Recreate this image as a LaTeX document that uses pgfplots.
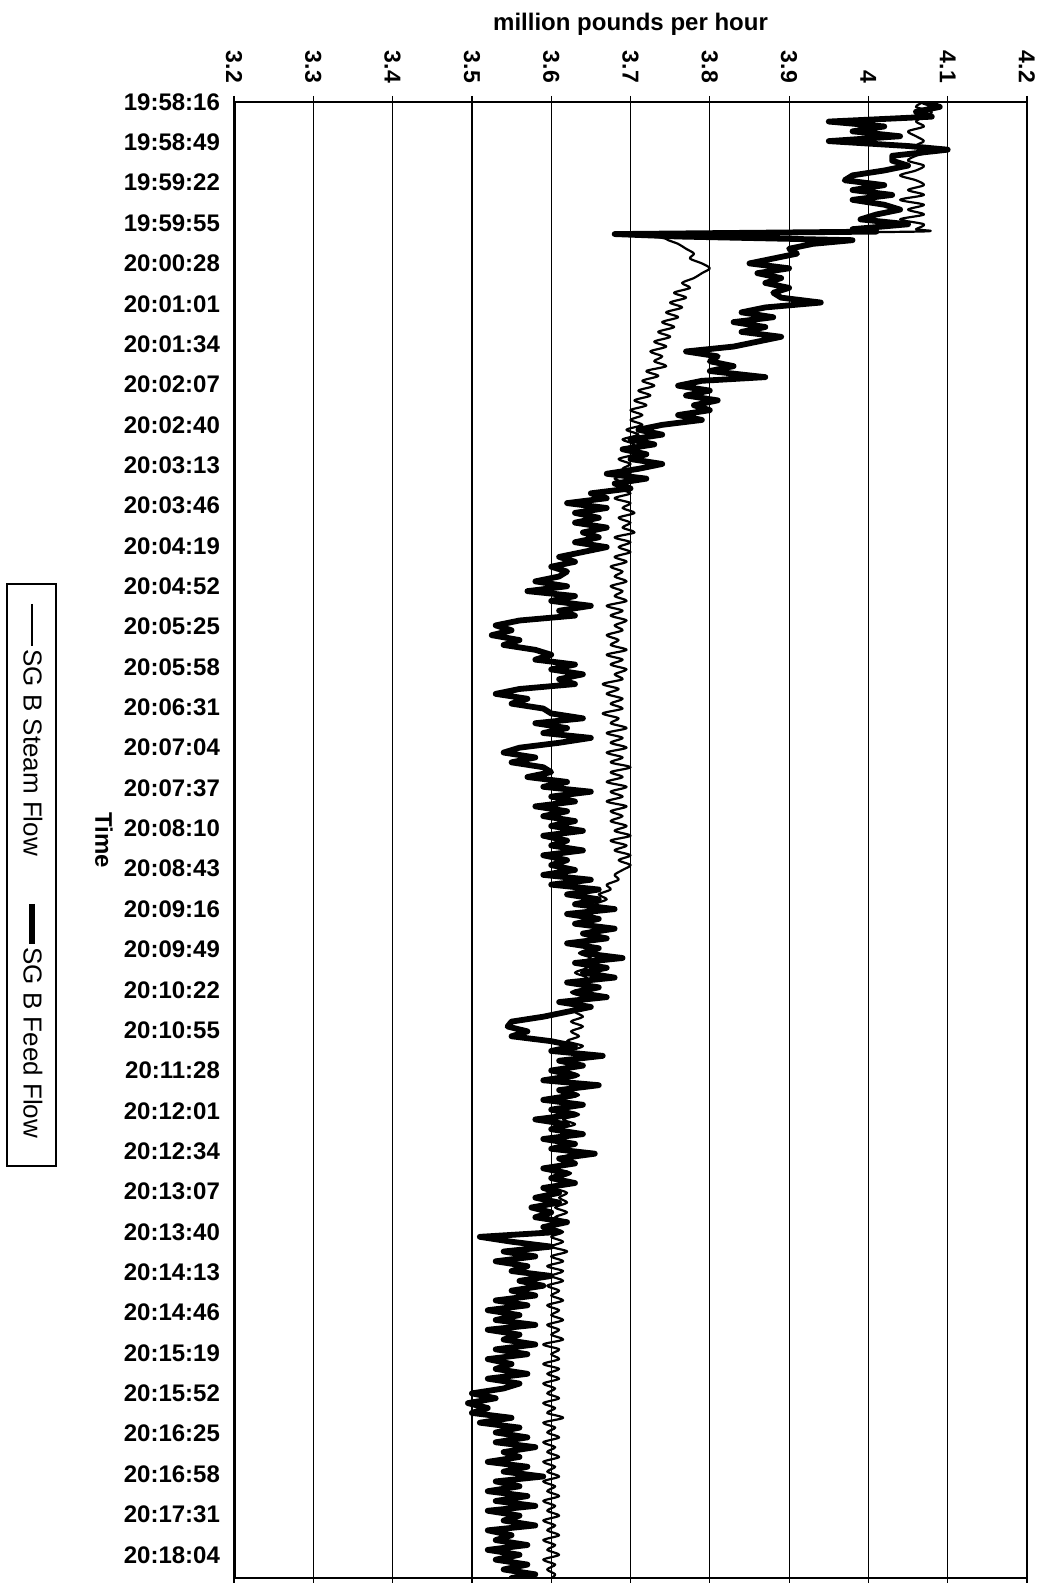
\documentclass[border=0pt]{standalone}
\usepackage{fontspec}
\setmainfont{Liberation Sans}
\usepackage{pgfplots}
\usepackage{pgfplotstable}
\pgfplotsset{compat=1.18}

\pgfplotstableread{
t v
0 4.07
4 4.09
8 4.06
12 4.08
16 3.95
20 4.02
24 3.98
28 4.04
32 3.95
36 4.05
39 4.10
44 4.03
48 4.03
52 4.05
56 4.02
60 3.98
64 3.97
68 4.02
72 3.98
76 4.03
80 3.98
84 4.02
88 4.04
92 4.01
96 3.99
100 4.05
104 3.98
106 4.01
108 3.68
110 3.76
113 3.98
116 3.93
120 3.90
124 3.91
128 3.88
132 3.85
136 3.90
140 3.86
144 3.89
148 3.87
152 3.90
156 3.88
160 3.89
164 3.94
168 3.87
172 3.84
176 3.88
180 3.83
184 3.87
188 3.84
192 3.89
196 3.86
200 3.83
204 3.77
208 3.81
212 3.80
216 3.83
220 3.80
225 3.87
228 3.79
232 3.76
236 3.80
240 3.77
244 3.81
248 3.78
252 3.80
256 3.76
260 3.79
264 3.74
268 3.71
272 3.74
276 3.70
280 3.73
284 3.69
288 3.72
292 3.70
296 3.74
300 3.71
304 3.67
308 3.72
312 3.68
316 3.70
320 3.65
324 3.67
328 3.62
332 3.67
336 3.63
340 3.66
344 3.63
348 3.67
352 3.64
356 3.66
360 3.63
364 3.67
368 3.64
372 3.61
376 3.63
380 3.60
384 3.62
388 3.61
392 3.58
396 3.62
400 3.57
404 3.63
408 3.60
412 3.65
416 3.61
420 3.63
424 3.56
428 3.53
432 3.55
436 3.525
440 3.56
444 3.54
448 3.58
452 3.60
456 3.58
460 3.63
464 3.60
468 3.64
472 3.61
476 3.63
480 3.56
484 3.53
488 3.57
492 3.55
496 3.59
500 3.60
504 3.64
508 3.58
512 3.62
516 3.59
520 3.65
524 3.61
528 3.56
532 3.54
536 3.58
540 3.55
544 3.59
548 3.60
552 3.57
556 3.62
560 3.59
564 3.65
568 3.60
572 3.63
576 3.58
580 3.62
584 3.59
588 3.63
592 3.60
596 3.64
600 3.59
604 3.62
608 3.60
612 3.64
616 3.59
620 3.62
624 3.60
628 3.63
632 3.59
636 3.65
640 3.60
644 3.66
648 3.62
652 3.66
656 3.63
660 3.68
664 3.62
668 3.66
672 3.63
676 3.68
680 3.64
684 3.67
688 3.62
692 3.66
696 3.64
700 3.69
704 3.63
708 3.67
712 3.64
716 3.68
720 3.62
724 3.66
728 3.63
732 3.67
736 3.61
740 3.65
744 3.62
748 3.59
752 3.55
756 3.545
760 3.57
764 3.55
768 3.60
772 3.63
776 3.60
780 3.665
784 3.61
788 3.64
792 3.60
796 3.63
800 3.59
804 3.66
808 3.61
812 3.63
816 3.59
820 3.64
824 3.60
828 3.63
832 3.58
836 3.62
840 3.60
844 3.64
848 3.59
852 3.63
856 3.60
860 3.655
864 3.61
868 3.63
872 3.59
876 3.62
880 3.60
884 3.63
888 3.59
892 3.61
896 3.58
900 3.61
904 3.575
908 3.60
912 3.58
916 3.62
920 3.59
924 3.61
928 3.51
932 3.55
936 3.60
940 3.54
944 3.58
948 3.53
952 3.57
956 3.55
960 3.60
964 3.56
968 3.59
972 3.55
976 3.58
980 3.53
984 3.57
988 3.52
992 3.56
996 3.53
1000 3.58
1004 3.52
1008 3.56
1012 3.54
1016 3.58
1020 3.53
1024 3.57
1028 3.52
1032 3.55
1036 3.53
1040 3.57
1044 3.52
1048 3.56
1052 3.54
1056 3.50
1060 3.53
1064 3.495
1068 3.52
1072 3.50
1076 3.55
1080 3.51
1084 3.56
1088 3.53
1092 3.57
1096 3.53
1100 3.58
1104 3.54
1108 3.56
1112 3.52
1116 3.57
1120 3.54
1124 3.59
1128 3.53
1132 3.56
1136 3.52
1140 3.57
1144 3.53
1148 3.58
1152 3.52
1156 3.56
1160 3.54
1164 3.58
1168 3.52
1172 3.55
1176 3.53
1180 3.57
1184 3.52
1188 3.56
1192 3.53
1196 3.57
1200 3.54
1204 3.58
1207 3.55
}\feed

\pgfplotstableread{
t v
0 4.07
4 4.06
8 4.08
12 4.07
16 4.06
20 4.07
24 4.05
28 4.06
32 4.07
36 4.06
40 4.08
44 4.06
48 4.05
52 4.07
56 4.06
60 4.04
64 4.06
68 4.07
72 4.05
76 4.07
80 4.04
84 4.07
88 4.05
92 4.07
96 4.04
100 4.07
104 4.06
106 4.06
108 3.75
112 3.745
116 3.76
120 3.77
124 3.78
128 3.775
132 3.79
136 3.80
140 3.79
144 3.78
148 3.765
152 3.775
156 3.755
160 3.77
164 3.75
168 3.765
172 3.745
176 3.76
180 3.74
184 3.755
188 3.735
192 3.75
196 3.73
200 3.745
204 3.725
208 3.74
212 3.73
216 3.745
220 3.72
224 3.735
228 3.715
232 3.73
236 3.71
240 3.725
244 3.705
248 3.72
252 3.70
256 3.715
260 3.70
264 3.715
268 3.695
272 3.71
276 3.69
280 3.705
284 3.69
288 3.705
292 3.685
296 3.70
300 3.69
304 3.70
308 3.68
312 3.695
316 3.685
320 3.70
324 3.68
328 3.70
332 3.69
336 3.705
340 3.685
344 3.70
348 3.69
352 3.705
356 3.68
360 3.70
364 3.685
368 3.70
372 3.68
376 3.695
380 3.675
384 3.69
388 3.68
392 3.695
396 3.675
400 3.69
404 3.68
408 3.695
412 3.67
416 3.69
420 3.675
424 3.695
428 3.68
432 3.69
436 3.67
440 3.685
444 3.675
448 3.695
452 3.67
456 3.69
460 3.675
464 3.695
468 3.68
472 3.69
476 3.665
480 3.685
484 3.67
488 3.69
492 3.675
496 3.69
500 3.665
504 3.685
508 3.675
512 3.695
516 3.67
520 3.69
524 3.675
528 3.695
532 3.67
536 3.69
540 3.675
544 3.70
548 3.675
552 3.69
556 3.67
560 3.695
564 3.675
568 3.69
572 3.67
576 3.695
580 3.675
584 3.69
588 3.675
592 3.695
596 3.68
600 3.70
604 3.675
608 3.695
612 3.68
616 3.70
620 3.685
624 3.70
628 3.69
632 3.68
636 3.685
640 3.67
644 3.675
648 3.66
652 3.67
656 3.655
660 3.665
664 3.65
668 3.66
672 3.645
676 3.655
680 3.64
684 3.655
688 3.64
692 3.65
696 3.635
700 3.65
704 3.635
708 3.645
712 3.63
716 3.645
720 3.63
724 3.645
728 3.625
732 3.64
736 3.625
740 3.64
744 3.63
748 3.64
752 3.625
756 3.64
760 3.625
764 3.635
768 3.62
772 3.64
776 3.625
780 3.64
784 3.62
788 3.635
792 3.62
796 3.635
800 3.615
804 3.635
808 3.62
812 3.635
816 3.615
820 3.63
824 3.615
828 3.635
832 3.615
836 3.63
840 3.61
844 3.63
848 3.615
852 3.63
856 3.61
860 3.625
864 3.61
868 3.625
872 3.605
876 3.625
880 3.61
884 3.625
888 3.605
892 3.62
896 3.61
900 3.62
904 3.605
908 3.62
912 3.605
916 3.62
920 3.60
924 3.615
928 3.60
932 3.615
936 3.60
940 3.62
944 3.60
948 3.615
952 3.595
956 3.615
960 3.60
964 3.615
968 3.595
972 3.61
976 3.60
980 3.615
984 3.595
988 3.61
992 3.60
996 3.615
1000 3.595
1004 3.61
1008 3.60
1012 3.615
1016 3.59
1020 3.61
1024 3.60
1028 3.61
1032 3.59
1036 3.61
1040 3.595
1044 3.61
1048 3.59
1052 3.605
1056 3.595
1060 3.61
1064 3.59
1068 3.605
1072 3.595
1076 3.615
1080 3.59
1084 3.605
1088 3.595
1092 3.61
1096 3.59
1100 3.605
1104 3.595
1108 3.61
1112 3.59
1116 3.605
1120 3.595
1124 3.61
1128 3.59
1132 3.605
1136 3.595
1140 3.61
1144 3.59
1148 3.605
1152 3.595
1156 3.61
1160 3.59
1164 3.605
1168 3.595
1172 3.61
1176 3.59
1180 3.605
1184 3.595
1188 3.61
1192 3.59
1196 3.605
1200 3.595
1204 3.605
1207 3.60
}\steam

\begin{document}
\begin{tikzpicture}
\begin{axis}[
  scale only axis,
  width=396.5pt, height=738pt,
  xmin=3.2, xmax=4.2,
  ymin=0, ymax=1207,
  y dir=reverse,
  xtick={3.2,3.3,3.4,3.5,3.6,3.7,3.8,3.9,4,4.1,4.2},
  xticklabels={3.2,3.3,3.4,3.5,3.6,3.7,3.8,3.9,4,4.1,4.2},
  xticklabel pos=upper,
  xticklabel style={font=\bfseries\fontsize{11.5}{13}\selectfont, rotate=-90, anchor=east},
  xticklabel shift=3pt,
  xmajorgrids,
  grid style={black, line width=0.6pt},
  ytick={0,33,...,1188},
  yticklabels={19:58:16,19:58:49,19:59:22,19:59:55,20:00:28,20:01:01,20:01:34,20:02:07,20:02:40,20:03:13,20:03:46,20:04:19,20:04:52,20:05:25,20:05:58,20:06:31,20:07:04,20:07:37,20:08:10,20:08:43,20:09:16,20:09:49,20:10:22,20:10:55,20:11:28,20:12:01,20:12:34,20:13:07,20:13:40,20:14:13,20:14:46,20:15:19,20:15:52,20:16:25,20:16:58,20:17:31,20:18:04},
  yticklabel style={font=\bfseries\fontsize{12}{14}\selectfont},
  yticklabel shift=0.5pt,
  ytick style={draw=none},
  x tick style={black, line width=0.6pt},
  major tick length=3pt,
  tick align=outside,
  axis line style={black, line width=1.1pt},
]
\addplot[black, line width=1.1pt, line join=round, smooth, tension=0.5] table[x=v, y=t] {\steam};
\addplot[black, line width=2.9pt, line join=round, line cap=round] table[x=v, y=t] {\feed};
\draw[black, line width=2.2pt] (rel axis cs:0,0) -- (rel axis cs:0,1);
\end{axis}
% title and axis label
\node[font=\bfseries\fontsize{12}{14}\selectfont] at (198.25pt,777pt) {million pounds per hour};
\node[font=\bfseries\fontsize{12}{14}\selectfont, rotate=-90] at (-65pt,369pt) {Time};
% legend
\draw[black, line width=0.8pt] (-113.5pt,206pt) rectangle (-89pt,497pt);
\draw[black, line width=0.9pt] (-101pt,487pt) -- (-101pt,466pt);
\node[font=\fontsize{13}{15}\selectfont, rotate=-90, anchor=west, inner sep=0pt] at (-100.5pt,464.5pt) {SG B Steam Flow};
\draw[black, line width=2.6pt] (-101pt,337pt) -- (-101pt,317pt);
\node[font=\fontsize{13}{15}\selectfont, rotate=-90, anchor=west, inner sep=0pt] at (-100.5pt,315.5pt) {SG B Feed Flow};
\pgfresetboundingbox
\path[use as bounding box] (-117pt,-2.5pt) rectangle (408.5pt,789pt);
\end{tikzpicture}
\end{document}
